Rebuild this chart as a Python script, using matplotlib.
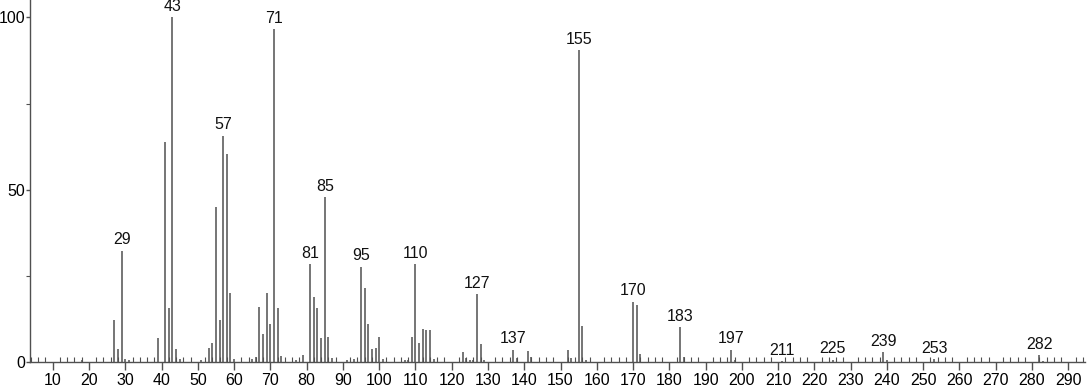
import matplotlib
matplotlib.use("Agg")
import matplotlib.pyplot as plt
from matplotlib.ticker import MultipleLocator

plt.rcParams['font.family'] = ['Liberation Sans', 'DejaVu Sans']

# m/z values and relative intensities
mz = [18, 27, 28, 29, 30, 31, 39, 41, 42, 43, 44, 45, 51, 53, 54, 55, 56, 57, 58, 59,
      60, 65, 66, 67, 68, 69, 70, 71, 72, 73, 77, 79, 81, 82, 83, 84, 85, 86, 87,
      91, 93, 95, 96, 97, 98, 99, 100, 101, 107, 108, 109, 110, 111, 112, 113, 114,
      115, 123, 124, 125, 126, 127, 128, 129, 137, 138, 141, 142, 152, 153, 155,
      156, 157, 170, 171, 172, 183, 184, 197, 198, 211, 225, 239, 240, 253, 282, 283]
intensity = [0.6, 12.3, 3.8, 32.3, 1.0, 0.6, 7.0, 63.9, 15.6, 100, 3.8, 1.0, 0.6, 4.0,
             5.7, 45.1, 12.3, 65.6, 60.4, 20.2, 0.9, 0.9, 1.6, 15.9, 8.2, 20.0, 11.1,
             96.5, 15.6, 1.8, 0.6, 2.1, 28.5, 19.0, 15.6, 7.0, 47.8, 7.2, 1.2,
             0.6, 0.9, 27.7, 21.4, 11.1, 3.9, 4.1, 7.4, 0.9, 0.6, 0.6, 7.4, 28.5, 5.7,
             9.7, 9.5, 9.4, 0.9, 2.9, 1.2, 0.6, 0.6, 19.7, 5.2, 0.6, 3.6, 1.2, 3.3, 1.6,
             3.6, 1.2, 90.5, 10.5, 0.6, 17.6, 16.6, 2.4, 10.1, 1.6, 3.6, 0.6, 0.3,
             0.8, 2.9, 0.6, 0.9, 2.1, 0.4]
labelled = [29, 43, 57, 71, 81, 85, 95, 110, 127, 137, 155, 170, 183, 197, 211, 225,
            239, 253, 282]

fig = plt.figure(figsize=(10.91, 3.87), dpi=100)
ax = fig.add_axes([30 / 1091, (387 - 362.3) / 387, 1055 / 1091, 362.3 / 387])

ax.vlines(mz, 0, intensity, colors='#505050', linewidth=1.1)

for m in labelled:
    h = intensity[mz.index(m)]
    ax.text(m, h + 1.0, str(m), ha='center', va='bottom', fontsize=11.5, color='#111111')

ax.set_xlim(3.74, 294.6)
ax.set_ylim(0, 105)

ax.xaxis.set_major_locator(MultipleLocator(10))
ax.xaxis.set_minor_locator(MultipleLocator(2))
ax.yaxis.set_major_locator(MultipleLocator(50))
ax.yaxis.set_minor_locator(MultipleLocator(25))

for s in ['top', 'right']:
    ax.spines[s].set_visible(False)
for s in ['left', 'bottom']:
    ax.spines[s].set_color('#505050')
    ax.spines[s].set_linewidth(1.0)

ax.tick_params(axis='x', which='major', direction='out', length=6, width=1,
               color='#505050', labelsize=11.5, pad=2)
ax.tick_params(axis='x', which='minor', direction='in', length=3.5, width=0.8,
               color='#505050')
ax.tick_params(axis='y', which='major', direction='out', length=3, width=1,
               color='#505050', labelsize=11.5, pad=0.5)
ax.tick_params(axis='y', which='minor', direction='out', length=3, width=0.8,
               color='#505050')

fig.savefig('out.png', dpi=100)
